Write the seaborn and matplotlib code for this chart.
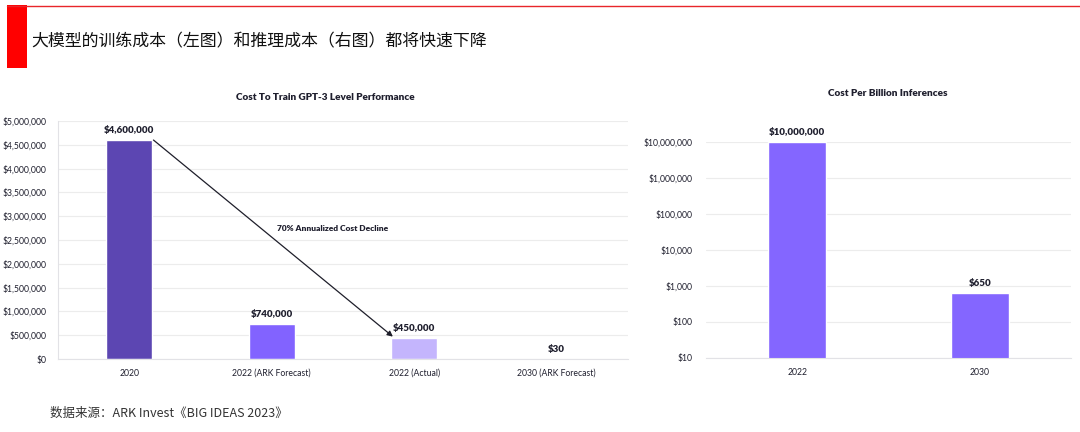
"""
Training cost (left) and inference cost (right) bar charts, ARK Big Ideas 2023.
"""

import matplotlib

matplotlib.use("Agg")
import matplotlib.pyplot as plt
import matplotlib.patches as mpatches
import matplotlib.ticker as mticker
import seaborn as sns
import pandas as pd

# Data
train_labels = ["2020", "2022 (ARK Forecast)", "2022 (Actual)", "2030 (ARK Forecast)"]
train_cost = [4600000, 740000, 450000, 30]
train_colors = ["#5C46B2", "#8263FF", "#C4B5FD", "#8263FF"]
train_ticks = [0, 500000, 1000000, 1500000, 2000000, 2500000, 3000000,
               3500000, 4000000, 4500000, 5000000]

infer_labels = ["2022", "2030"]
infer_cost = [10000000, 650]
infer_ticks = [10, 100, 1000, 10000, 100000, 1000000, 10000000]

page_title = "大模型的训练成本（左图）和推理成本（右图）都将快速下降"
source_note = "数据来源：ARK Invest《BIG IDEAS 2023》"
left_title = "Cost To Train GPT-3 Level Performance"
right_title = "Cost Per Billion Inferences"
arrow_note = "70% Annualized Cost Decline"

sns.set_theme(style="white")
plt.rcParams["font.family"] = ["Lato", "DejaVu Sans"]

GRID = "#ECECEC"
TXT = "#1F1F2E"


def money(v, _pos=None):
    return f"${v:,.0f}"


def label_bars(ax):
    # value label on top of every bar the library drew
    for p in ax.patches:
        h = p.get_height()
        ax.annotate(money(round(h)), (p.get_x() + p.get_width() / 2, h),
                    xytext=(0, 3.5), textcoords="offset points", ha="center",
                    va="bottom", fontsize=7, fontweight="heavy", color=TXT,
                    annotation_clip=False)


fig = plt.figure(figsize=(10.8, 4.32), dpi=100)

# Page header: red bar, red rule and Chinese heading
fig.add_artist(plt.Line2D([7 / 1080, 1.0], [0.987, 0.987], color="#E8262A", lw=1.0))
fig.add_artist(mpatches.Rectangle((7 / 1080, 1 - 68 / 432), 20 / 1080, 63 / 432,
                                  color="#FF0000", lw=0))
fig.text(31 / 1080, 1 - 41 / 432, page_title, fontsize=12.2, va="center",
         family=["Noto Sans CJK SC", "DejaVu Sans"], color="#111111")
fig.text(50 / 1080, 1 - 413 / 432, source_note, fontsize=9, va="center",
         family=["Noto Sans CJK SC", "DejaVu Sans"], color="#333333")

# ---- Left chart: training cost
df_train = pd.DataFrame({"label": train_labels, "cost": train_cost})
ax1 = fig.add_axes([58 / 1080, 1 - 359 / 432, 570 / 1080, 238 / 432])
sns.barplot(data=df_train, x="label", y="cost", hue="label", palette=train_colors,
            width=0.32, legend=False, ax=ax1, saturation=1)
ax1.set_ylim(0, 5000000)
ax1.set_xlim(-0.5, 3.5)
ax1.set_yticks(train_ticks)
ax1.yaxis.set_major_formatter(mticker.FuncFormatter(money))
ax1.grid(True, axis="y", color=GRID, lw=0.8)
ax1.set_axisbelow(True)
for s in ["top", "right"]:
    ax1.spines[s].set_visible(False)
for s in ["left", "bottom"]:
    ax1.spines[s].set_color("#E2E2E6")
    ax1.spines[s].set_linewidth(0.8)
ax1.set_xlabel("")
ax1.set_ylabel("")
ax1.tick_params(axis="both", length=0, labelsize=6.2, labelcolor=TXT)
ax1.tick_params(axis="x", pad=7)
ax1.tick_params(axis="y", pad=8)
label_bars(ax1)
ax1.annotate("", xy=(1.85, 0.47e6), xytext=(0.17, 4.6e6),
             arrowprops=dict(arrowstyle="-|>", color="#1E1E2A", lw=0.9,
                             shrinkA=0, shrinkB=0, mutation_scale=8))
ax1.text(1.43, 2.75e6, arrow_note, fontsize=6, fontweight="heavy", color=TXT,
         ha="center", va="center")
fig.text(325 / 1080, 1 - 98 / 432, left_title, fontsize=7.2, fontweight="heavy",
         color=TXT, ha="center", va="center")

# ---- Right chart: inference cost, log scale
df_infer = pd.DataFrame({"label": infer_labels, "cost": infer_cost})
ax2 = fig.add_axes([706 / 1080, 1 - 358 / 432, 365 / 1080, 216 / 432])
sns.barplot(data=df_infer, x="label", y="cost", color="#8466FF", width=0.32,
            ax=ax2, saturation=1)
ax2.set_yscale("log")
ax2.set_ylim(10, 10000000)
ax2.set_xlim(-0.5, 1.5)
ax2.set_yticks(infer_ticks)
ax2.yaxis.set_major_formatter(mticker.FuncFormatter(money))
ax2.yaxis.set_minor_locator(mticker.NullLocator())
ax2.grid(True, axis="y", color=GRID, lw=0.8)
ax2.set_axisbelow(True)
for s in ["top", "right", "left"]:
    ax2.spines[s].set_visible(False)
ax2.spines["bottom"].set_color("#E2E2E6")
ax2.spines["bottom"].set_linewidth(0.8)
ax2.set_xlabel("")
ax2.set_ylabel("")
ax2.tick_params(axis="both", length=0, labelsize=6.2, labelcolor=TXT)
ax2.tick_params(axis="x", pad=7)
ax2.tick_params(axis="y", pad=10)
label_bars(ax2)
fig.text(888 / 1080, 1 - 94 / 432, right_title, fontsize=7.2, fontweight="heavy",
         color=TXT, ha="center", va="center")

fig.savefig("out.png", dpi=100, facecolor="white")
plt.close(fig)
